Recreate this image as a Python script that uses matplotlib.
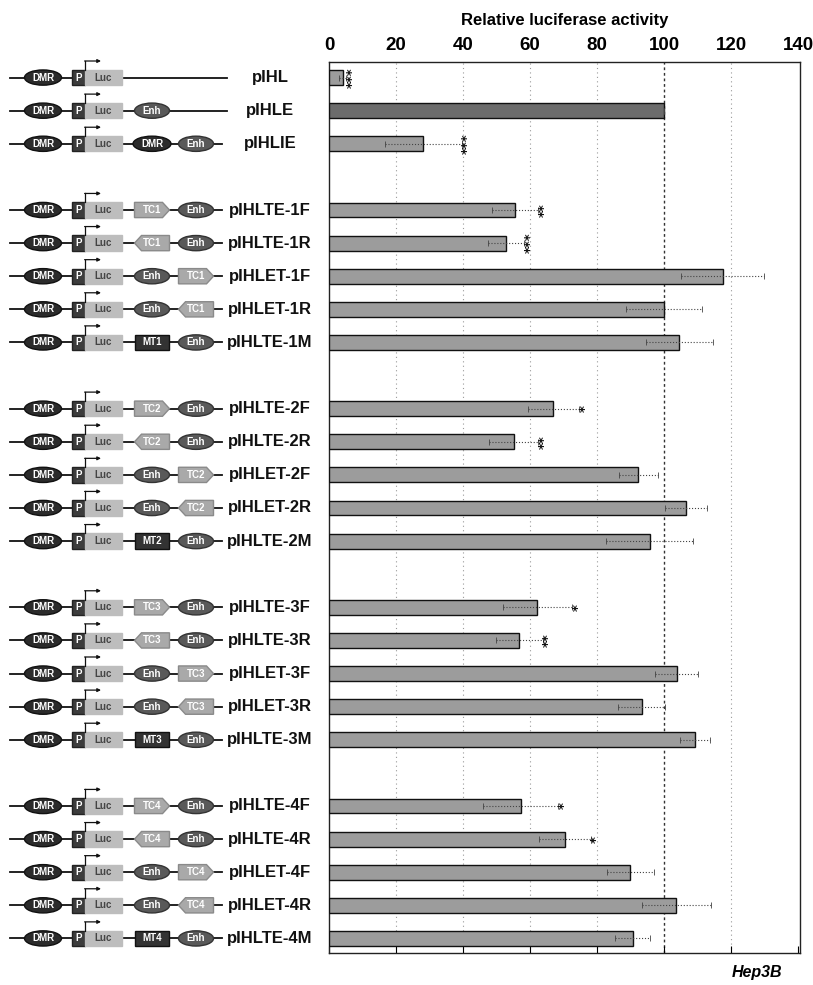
import matplotlib.pyplot as plt
import numpy as np
from matplotlib.patches import Ellipse, Rectangle, Polygon

plt.rcParams['font.family'] = ['Liberation Sans', 'DejaVu Sans']

# Data
names = ['pIHL', 'pIHLE', 'pIHLIE',
         'pIHLTE-1F', 'pIHLTE-1R', 'pIHLET-1F', 'pIHLET-1R', 'pIHLTE-1M',
         'pIHLTE-2F', 'pIHLTE-2R', 'pIHLET-2F', 'pIHLET-2R', 'pIHLTE-2M',
         'pIHLTE-3F', 'pIHLTE-3R', 'pIHLET-3F', 'pIHLET-3R', 'pIHLTE-3M',
         'pIHLTE-4F', 'pIHLTE-4R', 'pIHLET-4F', 'pIHLET-4R', 'pIHLTE-4M']
values = [4.1, 100, 28.2,
          55.5, 52.8, 117.5, 100, 104.6,
          67.0, 55.2, 92.3, 106.5, 95.8,
          62.2, 56.8, 103.8, 93.3, 109.3,
          57.3, 70.4, 90.0, 103.6, 90.6]
errors = [1.0, 0, 11.4,
          6.9, 5.4, 12.5, 11.4, 10.1,
          7.7, 7.3, 5.8, 6.2, 13.0,
          10.4, 7.0, 6.4, 7.0, 4.4,
          11.2, 7.7, 7.1, 10.3, 5.2]
stars = ['***', '', '***',
         '**', '***', '', '', '',
         '*', '**', '', '', '',
         '*', '**', '', '', '',
         '*', '*', '', '', '']
group_sizes = [3, 5, 5, 5, 5]

# construct maps (elements after DMR-P-Luc); '>' / '<' = TC orientation
maps = ['', 'Enh', 'DMR Enh']
for n in ['1', '2', '3', '4']:
    maps += ['TC%s> Enh' % n, '<TC%s Enh' % n, 'Enh TC%s>' % n, 'Enh <TC%s' % n, 'MT%s Enh' % n]

# row positions with a blank row between groups
rows = []
r = 0
for g in group_sizes:
    rows += list(range(r, r + g))
    r += g + 1
rows = np.array(rows)

fig = plt.figure(figsize=(8.13, 9.85), dpi=100)
W, H = 813.0, 985.0
ax_l, ax_r, ax_t, ax_b = 329, 800, 62, 953
ylim = (26.44, -0.47)

ax = fig.add_axes([ax_l / W, 1 - ax_b / H, (ax_r - ax_l) / W, (ax_b - ax_t) / H])
colors = ['#9c9c9c'] * len(values)
colors[1] = '#6c6c6c'
ax.barh(rows, values, height=0.45, color=colors, edgecolor='#111111', linewidth=1.0, zorder=3)
eb = ax.errorbar(values, rows, xerr=errors, fmt='none', ecolor='#444444',
                 elinewidth=0.8, capsize=2.5, capthick=0.6, zorder=4)
eb[2][0].set_linestyle(':')

for v, e, s, y in zip(values, errors, stars, rows):
    if s:
        ax.text(v + e + 1.8, y, s, rotation=90, ha='center', va='center',
                fontsize=9.5, fontweight='bold', color='#111111', zorder=5,
                family='DejaVu Sans')

ax.set_xlim(0, 140.6)
ax.set_ylim(*ylim)
ax.set_xticks(np.arange(0, 141, 20))
for x in [20, 40, 60, 80, 120]:
    ax.axvline(x, color='#9a9a9a', linestyle=(0, (1, 3)), linewidth=0.8, zorder=1)
ax.axvline(100, color='#333333', linestyle=(0, (2, 2)), linewidth=1.0, zorder=1)
ax.tick_params(axis='x', bottom=True, top=False, labelbottom=False, labeltop=True,
               direction='in', length=5, width=0.8, labelsize=13.5, pad=6)
for lab in ax.get_xticklabels():
    lab.set_fontweight('bold')
ax.set_yticks([])
for sp in ax.spines.values():
    sp.set_linewidth(1.0)
    sp.set_color('#222222')

fig.text((ax_l + ax_r) / 2 / W, 1 - 20 / H, 'Relative luciferase activity',
         ha='center', va='center', fontsize=12, fontweight='bold')
fig.text(757 / W, 1 - 973 / H, 'Hep3B', ha='center', va='center',
         fontsize=11.5, fontweight='bold', style='italic')

# construct diagrams
dx = fig.add_axes([0, 1 - ax_b / H, ax_l / W, (ax_b - ax_t) / H])
dx.set_xlim(0, ax_l)
dx.set_ylim(*ylim)
dx.axis('off')

h = 0.46
slots = [152, 196]


def etext(x, y, t, c='white', fs=7):
    dx.text(x, y, t, ha='center', va='center', fontsize=fs, fontweight='bold', color=c, zorder=6)


for name, m, y in zip(names, maps, rows):
    parts = m.split()
    end = 227 if len(parts) < 2 else 222
    dx.plot([10, end], [y, y], color='#111111', linewidth=1.3, zorder=1)
    # DMR
    dx.add_patch(Ellipse((43, y), 37, h, facecolor='#2b2b2b', edgecolor='#111111', zorder=4))
    etext(43, y, 'DMR')
    # promoter
    dx.add_patch(Rectangle((72, y - h / 2), 13, h, facecolor='#3c3c3c', edgecolor='#222222', zorder=4))
    etext(78.5, y, 'P')
    dx.add_patch(Rectangle((85, y - h / 2), 37, h, facecolor='#bdbdbd', edgecolor='#bdbdbd', zorder=4))
    etext(103.5, y, 'Luc', c='#444444')
    dx.plot([85, 85], [y - h / 2, y - 0.5], color='#111111', linewidth=0.9, zorder=5, clip_on=False)
    dx.annotate('', xy=(101, y - 0.5), xytext=(84.6, y - 0.5), annotation_clip=False,
                arrowprops=dict(arrowstyle='-|>', color='#111111', lw=0.9,
                                mutation_scale=5, shrinkA=0, shrinkB=0), zorder=5)
    for p, cx in zip(parts, slots):
        if p == 'Enh':
            dx.add_patch(Ellipse((cx, y), 35, h, facecolor='#595959', edgecolor='#333333', zorder=4))
            etext(cx, y, 'Enh')
        elif p == 'DMR':
            dx.add_patch(Ellipse((cx, y), 38, h, facecolor='#2b2b2b', edgecolor='#111111', zorder=4))
            etext(cx, y, 'DMR')
        elif p.startswith('MT'):
            dx.add_patch(Rectangle((cx - 17, y - h / 2), 34, h, facecolor='#333333',
                                   edgecolor='#111111', zorder=4))
            etext(cx, y, p)
        else:
            lab = p.strip('<>')
            x0, x1 = cx - 17.5, cx + 17.5
            if p.endswith('>'):
                pts = [(x0, y - h / 2), (x1 - 7, y - h / 2), (x1, y), (x1 - 7, y + h / 2), (x0, y + h / 2)]
            else:
                pts = [(x1, y - h / 2), (x0 + 7, y - h / 2), (x0, y), (x0 + 7, y + h / 2), (x1, y + h / 2)]
            dx.add_patch(Polygon(pts, closed=True, facecolor='#a9a9a9', edgecolor='#8a8a8a', zorder=4))
            etext(cx, y, lab)
    dx.text(270, y, name, ha='center', va='center', fontsize=12, fontweight='bold', color='#111111')

fig.savefig('out.png', dpi=100)
